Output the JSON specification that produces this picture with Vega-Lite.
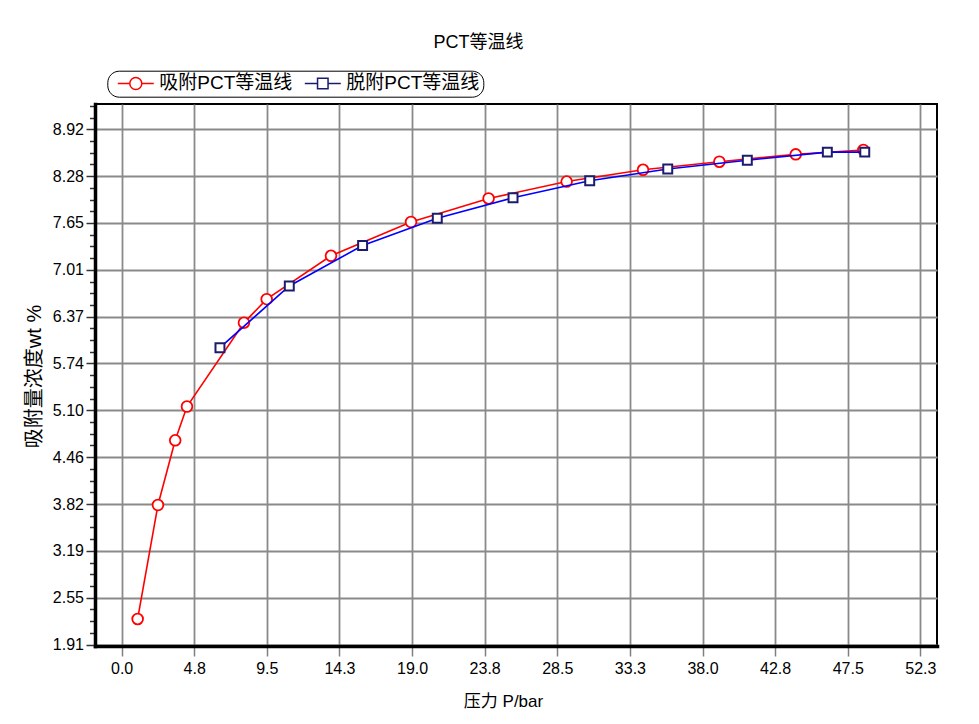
{
  "$schema": "https://vega.github.io/schema/vega-lite/v6.json",
  "autosize": {"type": "none"},
  "width": 842,
  "height": 542,
  "padding": {"left": 95, "top": 104, "right": 42, "bottom": 78},
  "background": "white",
  "title": {
    "text": "PCT等温线",
    "font": "Liberation Sans, Noto Sans CJK SC",
    "fontSize": 18,
    "fontWeight": "normal",
    "color": "black",
    "anchor": "middle",
    "frame": "group",
    "dx": -37.5,
    "offset": 18
  },
  "config": {
    "view": {"stroke": "black", "strokeWidth": 2},
    "axis": {
      "labelFont": "Liberation Sans, Noto Sans CJK SC",
      "titleFont": "Liberation Sans, Noto Sans CJK SC",
      "labelColor": "black",
      "titleColor": "black",
      "titleFontWeight": "normal"
    }
  },
  "data": {
    "values": [
      {"series": "吸附PCT等温线", "p": 1.05, "c": 2.26},
      {"series": "吸附PCT等温线", "p": 2.38, "c": 3.81},
      {"series": "吸附PCT等温线", "p": 3.51, "c": 4.69},
      {"series": "吸附PCT等温线", "p": 4.28, "c": 5.15},
      {"series": "吸附PCT等温线", "p": 8.01, "c": 6.29},
      {"series": "吸附PCT等温线", "p": 9.50, "c": 6.61},
      {"series": "吸附PCT等温线", "p": 13.71, "c": 7.20},
      {"series": "吸附PCT等温线", "p": 18.95, "c": 7.66},
      {"series": "吸附PCT等温线", "p": 24.03, "c": 7.98},
      {"series": "吸附PCT等温线", "p": 29.14, "c": 8.21},
      {"series": "吸附PCT等温线", "p": 34.14, "c": 8.37},
      {"series": "吸附PCT等温线", "p": 39.14, "c": 8.48},
      {"series": "吸附PCT等温线", "p": 44.14, "c": 8.58},
      {"series": "吸附PCT等温线", "p": 48.57, "c": 8.64},
      {"series": "脱附PCT等温线", "p": 48.66, "c": 8.61},
      {"series": "脱附PCT等温线", "p": 46.21, "c": 8.61},
      {"series": "脱附PCT等温线", "p": 40.97, "c": 8.50},
      {"series": "脱附PCT等温线", "p": 35.76, "c": 8.38},
      {"series": "脱附PCT等温线", "p": 30.65, "c": 8.22},
      {"series": "脱附PCT等温线", "p": 25.63, "c": 7.99},
      {"series": "脱附PCT等温线", "p": 20.67, "c": 7.71},
      {"series": "脱附PCT等温线", "p": 15.78, "c": 7.34},
      {"series": "脱附PCT等温线", "p": 10.98, "c": 6.79},
      {"series": "脱附PCT等温线", "p": 6.44, "c": 5.95}
    ]
  },
  "encoding": {
    "x": {
      "field": "p",
      "type": "quantitative",
      "scale": {"domain": [-1.742, 53.39], "nice": false, "zero": false},
      "axis": {
        "title": "压力 P/bar",
        "values": [0, 4.7545, 9.509, 14.2636, 19.018, 23.7727, 28.5273, 33.2818, 38.0364, 42.7909, 47.5455, 52.3],
        "format": ".1f",
        "grid": true,
        "gridColor": "#8a8a8a",
        "gridWidth": 1.8,
        "domainColor": "black",
        "domainWidth": 3.5,
        "domainCap": "square",
        "tickColor": "#808080",
        "tickWidth": 1.5,
        "tickSize": 10,
        "labelFontSize": 16,
        "labelPadding": 4,
        "titleFontSize": 17,
        "titleX": 408,
        "titleY": 60,
        "titleAlign": "center",
        "titleBaseline": "alphabetic"
      }
    },
    "y": {
      "field": "c",
      "type": "quantitative",
      "scale": {"domain": [1.892, 9.265], "nice": false, "zero": false},
      "axis": {
        "title": "吸附量浓度wt %",
        "values": [1.912, 2.0713, 2.2306, 2.3899, 2.5492, 2.7085, 2.8678, 3.0271, 3.1864, 3.3457, 3.505, 3.6643, 3.8236, 3.9829, 4.1422, 4.3015, 4.4608, 4.6201, 4.7794, 4.9387, 5.098, 5.2573, 5.4166, 5.5759, 5.7352, 5.8945, 6.0538, 6.2131, 6.3724, 6.5317, 6.691, 6.8503, 7.0096, 7.1689, 7.3282, 7.4875, 7.6468, 7.8061, 7.9654, 8.1247, 8.284, 8.4433, 8.6026, 8.7619, 8.9212, 9.0805, 9.2398],
        "labelExpr": "round((datum.value-1.912)/0.1593) % 4 == 0 ? format(datum.value, '.2f') : ''",
        "grid": true,
        "gridColor": "#8a8a8a",
        "gridWidth": 1.8,
        "gridOpacity": {"condition": {"test": "round((datum.value-1.912)/0.1593) % 4 == 0", "value": 1}, "value": 0},
        "domainColor": "black",
        "domainWidth": 3.5,
        "domainCap": "square",
        "tickColor": "#333333",
        "tickWidth": 1.5,
        "tickSize": {"condition": {"test": "round((datum.value-1.912)/0.1593) % 4 == 0", "value": 9}, "value": 5.5},
        "labelFontSize": 16,
        "labelPadding": 2.5,
        "titleFontSize": 20,
        "titleAngle": 270,
        "titleX": -61,
        "titleY": 272,
        "titleAlign": "center",
        "titleBaseline": "middle"
      }
    }
  },
  "layer": [
    {
      "mark": {"type": "point", "opacity": 0, "fill": "white", "strokeWidth": 1.8},
      "encoding": {
        "shape": {
          "field": "series",
          "type": "nominal",
          "scale": {
            "domain": ["吸附PCT等温线", "脱附PCT等温线"],
            "range": [
              "M-3.6,0H-1.2M1.2,0H3.6M1.2,0A1.2,1.2,0,1,1,-1.2,0A1.2,1.2,0,1,1,1.2,0Z",
              "M-3.6,0H-1.05M1.05,0H3.6M-1.05,-1.05H1.05V1.05H-1.05Z"
            ]
          },
          "legend": {
            "title": null,
            "orient": "none",
            "legendX": 12.3,
            "legendY": -33.3,
            "direction": "horizontal",
            "padding": 3,
            "cornerRadius": 11.5,
            "strokeColor": "black",
            "fillColor": "white",
            "symbolSize": 100,
            "symbolOffset": 16,
            "labelOffset": 14,
            "columnPadding": 4,
            "labelFont": "Liberation Sans, Noto Sans CJK SC",
            "labelFontSize": 19,
            "labelColor": "black",
            "encode": {
              "legend": {"update": {"strokeWidth": {"value": 1.5}}},
              "symbols": {"update": {"opacity": {"value": 1}, "fill": {"value": "white"}, "fillOpacity": {"value": 1}, "strokeOpacity": {"value": 1}, "strokeWidth": {"value": 1.8}}}
            }
          }
        },
        "stroke": {
          "field": "series",
          "type": "nominal",
          "scale": {"domain": ["吸附PCT等温线", "脱附PCT等温线"], "range": ["#ff0000", "#1c1c6e"]}
        }
      }
    },
    {
      "transform": [{"filter": "datum.series == '吸附PCT等温线'"}],
      "mark": {"type": "line", "color": "#ff0000", "strokeWidth": 1.6}
    },
    {
      "transform": [{"filter": "datum.series == '吸附PCT等温线'"}],
      "mark": {"type": "point", "shape": "circle", "filled": true, "fill": "white", "stroke": "#ff0000", "strokeWidth": 1.8, "size": 115, "opacity": 1}
    },
    {
      "transform": [{"filter": "datum.series == '脱附PCT等温线'"}],
      "mark": {"type": "line", "color": "#0000ff", "strokeWidth": 1.6}
    },
    {
      "transform": [{"filter": "datum.series == '脱附PCT等温线'"}],
      "mark": {"type": "point", "shape": "square", "filled": true, "fill": "white", "stroke": "#1c1c6e", "strokeWidth": 2, "size": 80, "opacity": 1}
    }
  ]
}
